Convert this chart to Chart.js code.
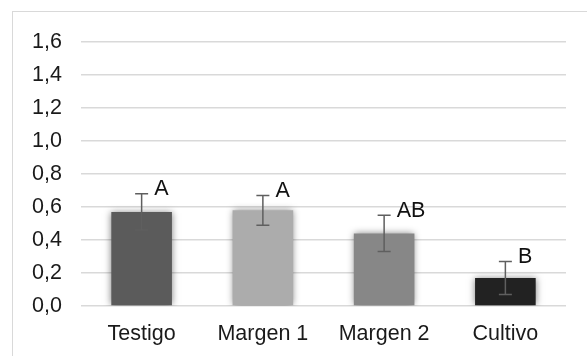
<!DOCTYPE html>
<html>
<head>
<meta charset="utf-8">
<script src="https://cdn.jsdelivr.net/npm/chart.js@4/dist/chart.umd.min.js"></script>
<style>
  html, body { margin: 0; padding: 0; background: #fff; overflow: hidden; }
  #wrap { position: relative; width: 587px; height: 356px; }
  #frame { position: absolute; left: 12px; top: 11px; width: 620px; height: 400px; border: 1px solid #d9d9d9; box-sizing: border-box; }
  canvas { position: absolute; left: 0; top: 0; }
</style>
</head>
<body>
<div id="wrap">
  <div id="frame"></div>
  <canvas id="c" width="587" height="356"></canvas>
</div>
<script>
// Treatments and their means, standard errors and significance letters
const categories = ['Testigo', 'Margen 1', 'Margen 2', 'Cultivo'];
const means = [0.57, 0.58, 0.44, 0.17];
const errors = [0.11, 0.09, 0.11, 0.10];
const letters = ['A', 'A', 'AB', 'B'];

const barColors = ['#5b5b5b', '#acacac', '#878787', '#222222'];
const FONT = "'Liberation Sans', Arial, sans-serif";
const FONT_SIZE = 21.5;

// Soft shadow behind the bars
const barShadow = {
  id: 'barShadow',
  beforeDatasetsDraw(chart) {
    const ctx = chart.ctx;
    ctx.save();
    ctx.shadowColor = 'rgba(0,0,0,0.5)';
    ctx.shadowBlur = 7;
    ctx.shadowOffsetX = 0;
    ctx.shadowOffsetY = 0;
  },
  afterDatasetsDraw(chart) {
    chart.ctx.restore();
  }
};

// Error bars with caps, and the letter beside each upper cap
const errorBars = {
  id: 'errorBars',
  afterDatasetsDraw(chart) {
    const ctx = chart.ctx;
    const y = chart.scales.y;
    const meta = chart.getDatasetMeta(0);
    ctx.save();
    ctx.strokeStyle = '#5f5f5f';
    ctx.lineWidth = 1.5;
    meta.data.forEach((bar, i) => {
      const x = bar.x;
      const top = y.getPixelForValue(means[i] + errors[i]);
      const bot = y.getPixelForValue(means[i] - errors[i]);
      const cap = 6.5;
      ctx.beginPath();
      ctx.moveTo(x, top); ctx.lineTo(x, bot);
      ctx.moveTo(x - cap, top); ctx.lineTo(x + cap, top);
      ctx.moveTo(x - cap, bot); ctx.lineTo(x + cap, bot);
      ctx.stroke();
      ctx.fillStyle = '#111111';
      ctx.font = FONT_SIZE + 'px ' + FONT;
      ctx.textAlign = 'left';
      ctx.textBaseline = 'alphabetic';
      ctx.fillText(letters[i], x + 12.5, top + 1.5);
    });
    ctx.restore();
  }
};

new Chart(document.getElementById('c'), {
  type: 'bar',
  data: {
    labels: categories,
    datasets: [{
      data: means,
      backgroundColor: barColors,
      borderWidth: 0,
      barPercentage: 0.5,
      categoryPercentage: 1.0
    }]
  },
  options: {
    responsive: false,
    animation: false,
    layout: { padding: { left: 0, right: 21, top: 42, bottom: 0 } },
    plugins: { legend: { display: false }, tooltip: { enabled: false } },
    scales: {
      x: {
        grid: { display: false },
        border: { display: false },
        ticks: { color: '#1a1a1a', font: { family: FONT, size: FONT_SIZE }, padding: 7, maxRotation: 0 },
        afterFit(scale) { scale.height = 50; }
      },
      y: {
        min: 0,
        max: 1.6,
        grid: { color: '#d9d9d9', lineWidth: 1.5, drawTicks: false },
        border: { display: false },
        ticks: {
          stepSize: 0.2,
          color: '#1a1a1a',
          font: { family: FONT, size: FONT_SIZE },
          padding: 19,
          callback: v => v.toFixed(1).replace('.', ',')
        },
        afterFit(scale) { scale.width = 81; }
      }
    }
  },
  plugins: [barShadow, errorBars]
});
</script>
</body>
</html>
